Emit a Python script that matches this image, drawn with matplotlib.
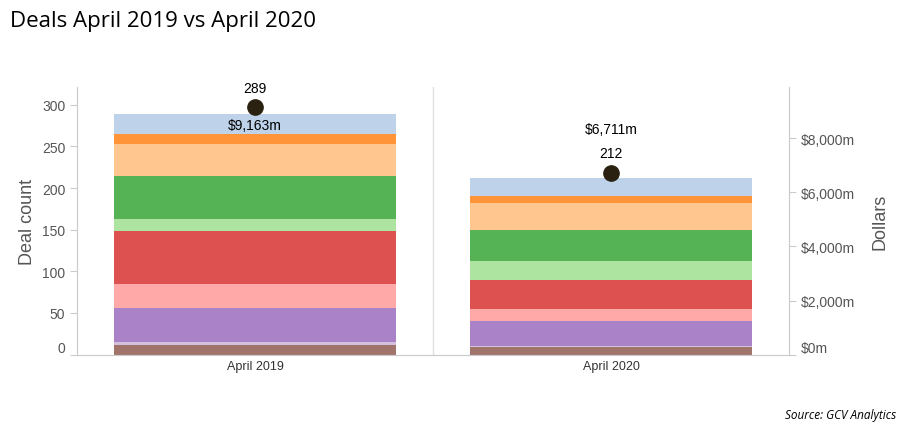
import matplotlib.pyplot as plt
import numpy as np

# data
periods = ['April 2019', 'April 2020']
# segment counts, bottom to top
seg_brown = [12, 9]
seg_lilac = [3, 1]
seg_purple = [41, 30]
seg_pink = [29, 15]
seg_red = [64, 34]
seg_ltgreen = [14, 23]
seg_green = [51, 38]
seg_ltorange = [39, 32]
seg_orange = [12, 8]
seg_ltblue = [24, 22]
deal_totals = [289, 212]
dollars = [9163, 6711]
dollar_labels = ['$9,163m', '$6,711m']

segments = [seg_brown, seg_lilac, seg_purple, seg_pink, seg_red,
            seg_ltgreen, seg_green, seg_ltorange, seg_orange, seg_ltblue]
colors = ['#a0736b', '#d2c0dd', '#aa82c8', '#ffaaa8', '#dd5150',
          '#ade5a0', '#55b255', '#ffc690', '#ff9438', '#bed2ea']

fig = plt.figure(figsize=(9.07, 4.31), dpi=100)
ax = fig.add_axes([0.0849, 0.175, 0.785, 0.621])
ax2 = ax.twinx()

x = np.arange(len(periods))
bottom = np.zeros(len(periods))
for seg, c in zip(segments, colors):
    ax.bar(x, seg, bottom=bottom, width=0.79, color=c, linewidth=0)
    bottom += np.array(seg)

ax.set_xlim(-0.5, 1.5)
ax.set_ylim(0, 321.5)
ax2.set_ylim(0, 9900)

grey = '#cccccc'
txt = '#555555'
for a in (ax, ax2):
    a.spines['top'].set_visible(False)
    a.spines['left'].set_color(grey)
    a.spines['right'].set_color(grey)
    a.spines['bottom'].set_color(grey)

ax.axvline(0.5, color='#e0e0e0', lw=1)

ax.set_yticks([0, 50, 100, 150, 200, 250, 300])
ax.tick_params(axis='y', colors=grey, labelcolor=txt, labelsize=10, length=5)
ax.set_xticks(x)
ax.set_xticklabels(periods)
ax.tick_params(axis='x', length=0, labelsize=9, labelcolor='#333333', pad=4)
ax2.set_yticks([0, 2000, 4000, 6000, 8000])
ax2.set_yticklabels(['$0m', '$2,000m', '$4,000m', '$6,000m', '$8,000m'])
ax2.tick_params(axis='y', colors=grey, labelcolor=txt, labelsize=10, length=5)
ax.get_yticklabels()[0].set_va('bottom')
ax2.get_yticklabels()[0].set_va('bottom')

for lab in ax.get_yticklabels() + ax2.get_yticklabels() + ax.get_xticklabels():
    lab.set_family('Liberation Sans')

ax.set_ylabel('Deal count', fontsize=13, color=txt, family='Liberation Sans', labelpad=4)
ax2.set_ylabel('Dollars', fontsize=13, color=txt, family='Liberation Sans', labelpad=12)

# dollar markers and labels
ax2.plot(x, dollars, 'o', color='#2a2110', markersize=11, zorder=5)
ax.annotate(str(deal_totals[0]), (x[0], deal_totals[0]), xytext=(0, 14),
            textcoords='offset points', ha='center', va='bottom', fontsize=10,
            family='Liberation Sans')
ax2.annotate(dollar_labels[0], (x[0], dollars[0]), xytext=(0, -8),
             textcoords='offset points', ha='center', va='top', fontsize=10,
             family='Liberation Sans')
ax.annotate(str(deal_totals[1]), (x[1], deal_totals[1]), xytext=(0, 13),
            textcoords='offset points', ha='center', va='bottom', fontsize=10,
            family='Liberation Sans')
ax2.annotate(dollar_labels[1], (x[1], dollars[1]), xytext=(0, 32),
             textcoords='offset points', ha='center', va='center', fontsize=10,
             family='Liberation Sans')

fig.text(0.011, 0.95, 'Deals April 2019 vs April 2020', fontsize=16,
         family='Open Sans', va='center', ha='left')
fig.text(0.988, 0.035, 'Source: GCV Analytics', fontsize=8.5, style='italic',
         family='Open Sans', ha='right', va='center')

fig.savefig('out.png', dpi=100)
